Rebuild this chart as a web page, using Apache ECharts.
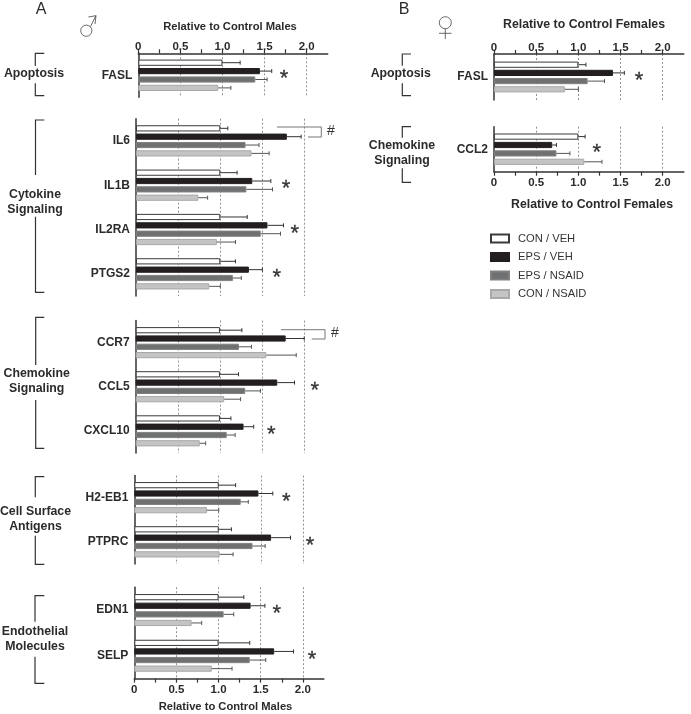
<!DOCTYPE html>
<html><head><meta charset="utf-8">
<style>html,body{margin:0;padding:0;background:#fff}#c{width:691px;height:714px}</style>
<script src="https://cdn.jsdelivr.net/npm/echarts@6/dist/echarts.min.js"></script>
</head><body><div id="c"></div>
<script>
// ---- data, one entry per panel block ----
const genes = [['FASL'],['IL6','IL1B','IL2RA','PTGS2'],['CCR7','CCL5','CXCL10'],['H2-EB1','PTPRC'],['EDN1','SELP'],['FASL'],['CCL2']];
const conVeh      = [[1.00],[1.00,1.00,1.00,1.00],[1.00,1.00,1.00],[1.00,1.00],[1.00,1.00],[1.00],[1.00]];
const conVehTop   = [[1.21],[1.09,1.20,1.32,1.18],[1.26,1.22,1.13],[1.20,1.15],[1.30,1.37],[1.09],[1.08]];
const epsVeh      = [[1.445],[1.79,1.38,1.56,1.34],[1.78,1.68,1.28],[1.47,1.62],[1.38,1.66],[1.41],[0.69]];
const epsVehTop   = [[1.585],[1.96,1.60,1.75,1.50],[2.00,1.885,1.40],[1.64,1.85],[1.55,1.89],[1.545],[0.74]];
const epsNsaid    = [[1.39],[1.30,1.31,1.48,1.15],[1.225,1.30,1.08],[1.26,1.40],[1.06,1.37],[1.11],[0.74]];
const epsNsaidTop = [[1.53],[1.46,1.62,1.715,1.25],[1.375,1.48,1.18],[1.35,1.55],[1.18,1.56],[1.31],[0.90]];
const conNsaid    = [[0.95],[1.37,0.74,0.96,0.87],[1.55,1.05,0.76],[0.86,1.01],[0.68,0.92],[0.84],[1.07]];
const conNsaidTop = [[1.10],[1.58,0.85,1.18,1.00],[1.905,1.245,0.83],[1.00,1.17],[0.80,1.16],[1.00],[1.28]];
const treatments = ['CON / VEH','EPS / VEH','EPS / NSAID','CON / NSAID'];
// significance stars: [value position, category index]
const stars = [[[1.73,0]],[[1.78,1],[1.885,2],[1.67,3]],[[2.126,1],[1.61,2]],[[1.80,0],[2.08,1]],[[1.69,0],[2.11,1]],[[1.72,0]],[[1.217,0]]];
const tickStep = 0.25, gridStep = 0.5, axisMax = 2.25;

// ---- styling and layout ----
const means = [conVeh,epsVeh,epsNsaid,conNsaid];
const tops = [conVehTop,epsVehTop,epsNsaidTop,conNsaidTop];
const barStyles = [
  {color:'#fff',borderColor:'#3a3a3a',borderWidth:1},
  {color:'#231f20',borderColor:'#231f20',borderWidth:1},
  {color:'#6f7072',borderColor:'#808080',borderWidth:1},
  {color:'#c4c4c4',borderColor:'#a8a8a8',borderWidth:1}
];
const errColors = ['#333','#333','#555','#555'];
const BW = 6.2;
// left, top, width, height, pitch of bars, axis position
const blocks = [
  {l:138.3,t:53.3,w:189.4,h:44,p:8.4,axis:'top'},
  {l:136,t:118.7,w:189.6,h:177.3,p:8.35,axis:null},
  {l:135.7,t:320.6,w:189.6,h:132.3,p:8.3,axis:null},
  {l:134.3,t:475.6,w:190,h:88.3,p:8.35,axis:null},
  {l:134.3,t:587.2,w:189.6,h:91.4,p:8.6,axis:'bottom'},
  {l:494,t:54,w:189.8,h:46,p:8.2,axis:'top'},
  {l:494,t:126.7,w:189.8,h:45,p:8.4,axis:'bottom'}
];
const font = '"Liberation Sans",Arial,sans-serif';
const ink = '#2b2b2b';

const grid=[],xAxis=[],yAxis=[],series=[];
blocks.forEach((b,i)=>{
  grid.push({left:b.l,top:b.t,width:b.w,height:b.h,containLabel:false});
  const shown = !!b.axis;
  xAxis.push({gridIndex:i,type:'value',min:0,max:axisMax,interval:tickStep,position:b.axis||'bottom',
    axisLine:{show:shown,onZero:false,lineStyle:{color:'#333',width:1.5}},
    axisTick:{show:shown,length:4,lineStyle:{color:'#333',width:1.2}},
    axisLabel:{show:shown,margin:b.axis==='top'?0:5,fontFamily:font,fontWeight:'bold',fontSize:11.5,color:ink,
      showMaxLabel:false,hideOverlap:false,
      formatter:v=>{if(v===0)return '0';return Math.abs(v/gridStep-Math.round(v/gridStep))<1e-6?v.toFixed(1):'';}},
    splitLine:{show:false}});
  xAxis.push({gridIndex:i,type:'value',min:0,max:axisMax,interval:gridStep,position:b.axis||'bottom',
    axisLine:{show:false},axisTick:{show:false},axisLabel:{show:false},
    splitLine:{show:true,showMinLine:false,showMaxLine:false,lineStyle:{color:'#777',width:0.8,type:[2,2]}}});
  yAxis.push({gridIndex:i,type:'category',inverse:true,data:genes[i],
    axisLine:{show:true,onZero:false,lineStyle:{color:'#333',width:1.5}},axisTick:{show:false},
    axisLabel:{margin:6,fontFamily:font,fontWeight:'bold',fontSize:12,color:ink},splitLine:{show:false}});
  const xi=i*2;
  treatments.forEach((name,s)=>{
    series.push({type:'bar',name,xAxisIndex:xi,yAxisIndex:i,data:means[s][i],barWidth:BW,
      barGap:((b.p-BW)/BW*100)+'%',itemStyle:barStyles[s],silent:true,z:3});
    series.push({type:'custom',name:name+' error',xAxisIndex:xi,yAxisIndex:i,silent:true,z:4,clip:false,
      data:means[s][i].map((m,c)=>[c,m,tops[s][i][c]]),encode:{x:[1,2],y:0},
      renderItem:(params,api)=>{
        const a=api.coord([api.value(1),api.value(0)]),e=api.coord([api.value(2),api.value(0)]);
        const y=a[1]+(s-1.5)*b.p;
        const st={stroke:errColors[s],lineWidth:1,fill:null};
        return {type:'group',children:[
          {type:'line',shape:{x1:a[0],y1:y,x2:e[0],y2:y},style:st},
          {type:'line',shape:{x1:e[0],y1:y-2,x2:e[0],y2:y+2},style:st}]};
      }});
  });
  series.push({type:'custom',name:'significance',xAxisIndex:xi,yAxisIndex:i,silent:true,z:5,clip:false,
    data:stars[i],encode:{x:0,y:1},
    renderItem:(params,api)=>{
      const p=api.coord([api.value(0),api.value(1)]);
      return {type:'text',x:p[0],y:p[1]+4,style:{text:'*',fontFamily:font,fontSize:22,fill:'#333',stroke:'#333',lineWidth:0.3,align:'center',verticalAlign:'middle'}};
    }});
});

// ---- annotations ----
const txt=(x,y,text,o={})=>({type:'text',x,y,silent:true,style:Object.assign({text,fontFamily:font,fontSize:12.3,fontWeight:'bold',fill:ink,align:'center',verticalAlign:'middle'},o)});
const pl=(points,stroke='#333',w=1.2)=>({type:'polyline',silent:true,shape:{points},style:{stroke,lineWidth:w,fill:null}});
const bracket=(x,t,x2,a,b2,e)=>[pl([[x2,t],[x,t],[x,a]]),pl([[x,b2],[x,e],[x2,e]])];
const graphics=[
  txt(41,10,'A',{fontSize:16,fontWeight:'normal'}),
  txt(404,9.5,'B',{fontSize:16,fontWeight:'normal'}),
  txt(230,27,'Relative to Control Males',{fontSize:11.2}),
  txt(225.5,707,'Relative to Control Males',{fontSize:11.2}),
  txt(584,25,'Relative to Control Females'),
  txt(592,205,'Relative to Control Females'),
  txt(34,74,'Apoptosis'),
  txt(35,195,'Cytokine'),txt(35,210,'Signaling'),
  txt(36.7,374,'Chemokine'),txt(36.7,389,'Signaling'),
  txt(35.5,511.7,'Cell Surface'),txt(35.5,526.7,'Antigens'),
  txt(35,632,'Endothelial'),txt(35,647,'Molecules'),
  txt(400.7,74,'Apoptosis'),
  txt(402,146,'Chemokine'),txt(402,161,'Signaling'),
  ...bracket(35.3,53.3,44.3,66,83.3,95.7),
  ...bracket(35.5,120,44.3,175,216.7,292.3),
  ...bracket(35.7,317.3,44.3,365,400,448.3),
  ...bracket(35.3,476.7,44.3,497.3,535.7,564.3),
  ...bracket(35,595.7,44.3,621.7,656.7,683.3),
  ...bracket(402.3,54,411,65.7,83.3,95.7),
  ...bracket(402.3,126.7,411,137.7,168.3,182.3),
  pl([[277,127],[321.3,127],[321.3,137],[308,137]],'#777',1),
  txt(331,131,'#',{fontWeight:'normal',fontSize:14,fill:'#333'}),
  pl([[281,329.7],[325,329.7],[325,339],[311.7,339]],'#777',1),
  txt(335,333,'#',{fontWeight:'normal',fontSize:14,fill:'#333'}),
  // male symbol
  {type:'circle',silent:true,shape:{cx:86.3,cy:30.7,r:5.6},style:{stroke:'#444',lineWidth:0.8,fill:null}},
  pl([[90.5,26.5],[96,15.7]],'#444',0.8),pl([[88.3,17],[96,15.7],[95,24]],'#444',0.8),
  // female symbol
  {type:'circle',silent:true,shape:{cx:445.3,cy:22.7,r:6},style:{stroke:'#444',lineWidth:0.8,fill:null}},
  pl([[445.3,28.7],[445.3,39]],'#444',0.8),pl([[439,33.3],[451.5,33.3]],'#444',0.8)
];

const chart=echarts.init(document.getElementById('c'),null,{renderer:'canvas'});
chart.setOption({animation:false,backgroundColor:'#fff',grid,xAxis,yAxis,series,
  graphic:{elements:graphics},
  legend:{show:true,orient:'vertical',left:490,top:233,padding:0,itemWidth:18,itemHeight:8,itemGap:7.5,selectedMode:false,
    data:treatments.map(n=>({name:n,icon:'rect'})),
    textStyle:{fontFamily:font,fontSize:11.2,color:'#333',padding:[0,0,0,4]}}
});
</script></body></html>
